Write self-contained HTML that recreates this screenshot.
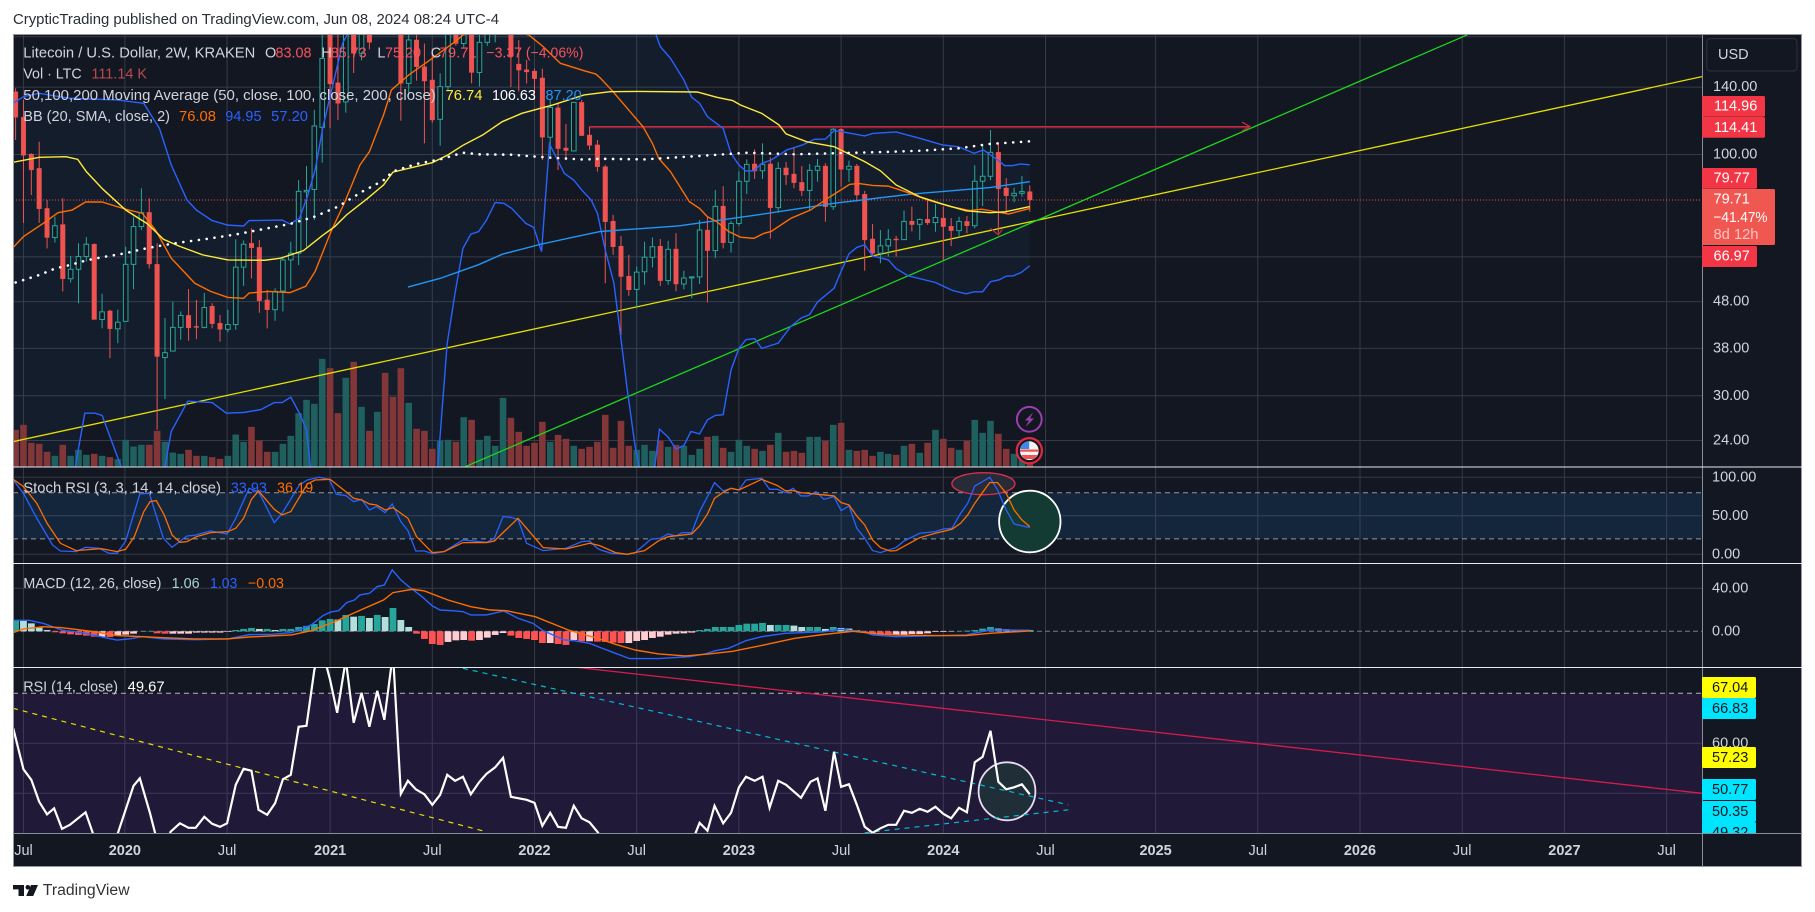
<!DOCTYPE html>
<html lang="en">
<head>
<meta charset="utf-8">
<title>LTC/USD 2W chart</title>
<style>
html,body{margin:0;padding:0;background:#fff;width:1815px;height:912px;overflow:hidden}
svg{display:block;font-family:"Liberation Sans",sans-serif}
text{white-space:pre}
.lg{font-size:14.5px;fill:#d1d4dc;dominant-baseline:central}
.ax{font-size:14.5px;fill:#d1d4dc;dominant-baseline:central}
.tag{font-size:14.5px;fill:#fff;dominant-baseline:central}
.tagd{font-size:14.5px;fill:#131722;dominant-baseline:central}
.r{fill:#f7525f}
</style>
</head>
<body>
<svg id="chart" width="1815" height="912" viewBox="0 0 1815 912" xmlns="http://www.w3.org/2000/svg">
  <defs>
    <clipPath id="clipMain"><rect x="13.5" y="34.5" width="1688.5" height="432"/></clipPath>
    <clipPath id="clipStoch"><rect x="13.5" y="467.5" width="1688.5" height="95.5"/></clipPath>
    <clipPath id="clipMacd"><rect x="13.5" y="564" width="1688.5" height="103"/></clipPath>
    <clipPath id="clipRsi"><rect x="13.5" y="668" width="1688.5" height="165"/></clipPath>
    <clipPath id="clipTags"><rect x="1702" y="668" width="99" height="165"/></clipPath>
  </defs>
  <rect x="0" y="0" width="1815" height="912" fill="#ffffff"/>
  <text x="13" y="20" font-size="14.5" fill="#2a2e39" dominant-baseline="central" textLength="486" lengthAdjust="spacingAndGlyphs">CrypticTrading published on TradingView.com, Jun 08, 2024 08:24 UTC-4</text>
  <rect x="13" y="34" width="1789" height="833" fill="#131722"/>
  <g id="layerGrid"></g>
  <g id="layerMain" clip-path="url(#clipMain)"></g>
  <g id="layerStoch" clip-path="url(#clipStoch)"></g>
  <g id="layerMacd" clip-path="url(#clipMacd)"></g>
  <g id="layerRsi" clip-path="url(#clipRsi)"></g>
  <g id="layerAxis"></g>

  <g fill="none">
    <rect x="13.5" y="34.5" width="1788" height="832" stroke="#9598a1"/>
    <line x1="1702.5" y1="34" x2="1702.5" y2="867" stroke="#8a8d97"/>
    <line x1="13" y1="467" x2="1802" y2="467" stroke="#e6e8ee"/>
    <line x1="13" y1="563.5" x2="1802" y2="563.5" stroke="#e6e8ee"/>
    <line x1="13" y1="667.5" x2="1802" y2="667.5" stroke="#e6e8ee"/>
    <line x1="13" y1="833.5" x2="1802" y2="833.5" stroke="#8a8d97"/>
  </g>

  <g>
    <text class="lg" x="23.3" y="53.5" textLength="232" lengthAdjust="spacingAndGlyphs">Litecoin / U.S. Dollar, 2W, KRAKEN</text>
    <text class="lg" x="265" y="53.5">O</text><text class="lg r" x="275.5" y="53.5" textLength="36" lengthAdjust="spacingAndGlyphs">83.08</text>
    <text class="lg" x="321.4" y="53.5">H</text><text class="lg r" x="330.7" y="53.5" textLength="36" lengthAdjust="spacingAndGlyphs">85.73</text>
    <text class="lg" x="377.4" y="53.5">L</text><text class="lg r" x="385" y="53.5" textLength="36" lengthAdjust="spacingAndGlyphs">75.20</text>
    <text class="lg" x="430.7" y="53.5">C</text><text class="lg r" x="439.7" y="53.5" textLength="37" lengthAdjust="spacingAndGlyphs">79.71</text>
    <text class="lg r" x="486.4" y="53.5" textLength="97" lengthAdjust="spacingAndGlyphs">−3.37 (−4.06%)</text>

    <text class="lg" x="23.3" y="74.7" textLength="58.4" lengthAdjust="spacingAndGlyphs">Vol · LTC</text>
    <text class="lg" x="91.4" y="74.7" textLength="55.6" lengthAdjust="spacingAndGlyphs" fill="#bb4a4f" style="fill:#bb4a4f">111.14 K</text>

    <text class="lg" x="23.3" y="96" textLength="412.5" lengthAdjust="spacingAndGlyphs">50,100,200 Moving Average (50, close, 100, close, 200, close)</text>
    <text class="lg" x="445.5" y="96" textLength="37" lengthAdjust="spacingAndGlyphs" style="fill:#ffeb3b">76.74</text>
    <text class="lg" x="492" y="96" textLength="43.8" lengthAdjust="spacingAndGlyphs" style="fill:#ffffff">106.63</text>
    <text class="lg" x="545.5" y="96" textLength="36.2" lengthAdjust="spacingAndGlyphs" style="fill:#2196f3">87.20</text>

    <text class="lg" x="23.3" y="117" textLength="146.7" lengthAdjust="spacingAndGlyphs">BB (20, SMA, close, 2)</text>
    <text class="lg" x="179" y="117" textLength="37" lengthAdjust="spacingAndGlyphs" style="fill:#ff6d00">76.08</text>
    <text class="lg" x="225.3" y="117" textLength="36.2" lengthAdjust="spacingAndGlyphs" style="fill:#2962ff">94.95</text>
    <text class="lg" x="271.2" y="117" textLength="36.8" lengthAdjust="spacingAndGlyphs" style="fill:#2962ff">57.20</text>
  </g>

  <g>
    <text class="lg" x="23.3" y="488.3" textLength="197.7" lengthAdjust="spacingAndGlyphs">Stoch RSI (3, 3, 14, 14, close)</text>
    <text class="lg" x="230.7" y="488.3" textLength="36.3" lengthAdjust="spacingAndGlyphs" style="fill:#2962ff">33.93</text>
    <text class="lg" x="277" y="488.3" textLength="36.2" lengthAdjust="spacingAndGlyphs" style="fill:#ff6d00">36.19</text>
  </g>
  <g>
    <text class="lg" x="23.3" y="584" textLength="138.2" lengthAdjust="spacingAndGlyphs">MACD (12, 26, close)</text>
    <text class="lg" x="171.6" y="584" textLength="28" lengthAdjust="spacingAndGlyphs" style="fill:#a5d6d0">1.06</text>
    <text class="lg" x="210" y="584" textLength="27.4" lengthAdjust="spacingAndGlyphs" style="fill:#2962ff">1.03</text>
    <text class="lg" x="247.9" y="584" textLength="36.1" lengthAdjust="spacingAndGlyphs" style="fill:#ff6d00">−0.03</text>
  </g>
  <g>
    <text class="lg" x="23.3" y="687.7" textLength="94.7" lengthAdjust="spacingAndGlyphs">RSI (14, close)</text>
    <text class="lg" x="127.6" y="687.7" textLength="37" lengthAdjust="spacingAndGlyphs" style="fill:#ffffff">49.67</text>
  </g>

  <g>
    <circle cx="1029.3" cy="419.3" r="12.4" fill="#131722" stroke="#9c3fb0" stroke-width="2"/>
    <path d="M1033 412.5 L1025 420.5 L1029 420.5 L1025.5 427 L1034 418.5 L1030 418.5 Z" fill="#9c3fb0"/>
  </g>
  <g>
    <circle cx="1029.3" cy="450.7" r="12.6" fill="#131722" stroke="#e0293f" stroke-width="2.2"/>
    <circle cx="1029.3" cy="450.7" r="9.4" fill="#f4f4f6"/>
    <path d="M1021.5 455 h15.6 a9.4 9.4 0 0 1 -3 4 h-9.6 a9.4 9.4 0 0 1 -3 -4 Z" fill="#ef5350"/>
    <path d="M1020 449.5 h19 v2.2 h-19 Z" fill="#ef5350"/>
    <path d="M1020.2 449 a9.4 9.4 0 0 1 9 -7.7 v7.7 Z" fill="#3f86e8"/>
  </g>

  <g>
    <rect x="1706.7" y="38.5" width="90.3" height="32.5" rx="4" fill="#131722" stroke="#2a2e39" stroke-width="1.2"/>
    <text class="ax" x="1718" y="54.8">USD</text>

    <rect x="1702" y="96" width="63" height="20.8" rx="1.5" fill="#f23645"/>
    <text class="tag" x="1714" y="106.5">114.96</text>
    <rect x="1702" y="117" width="63" height="20.8" rx="1.5" fill="#f23645"/>
    <text class="tag" x="1714" y="127.8">114.41</text>
    <rect x="1702" y="168" width="55" height="20.8" rx="1.5" fill="#f23645"/>
    <text class="tag" x="1713.5" y="178.5">79.77</text>
    <rect x="1702" y="189" width="73" height="56" rx="1.5" fill="#f05750"/>
    <text class="tag" x="1713.5" y="199.5">79.71</text>
    <text class="tag" x="1713.5" y="217.8" textLength="54" lengthAdjust="spacingAndGlyphs">−41.47%</text>
    <text class="tag" x="1713.5" y="235" style="fill:#fbc4c1" textLength="45" lengthAdjust="spacingAndGlyphs">8d 12h</text>
    <rect x="1702" y="246" width="55" height="21" rx="1.5" fill="#f23645"/>
    <text class="tag" x="1713.5" y="256.5">66.97</text>

    <g clip-path="url(#clipTags)">
      <rect x="1702" y="677" width="54" height="21" rx="1.5" fill="#ffff00"/>
      <text class="tagd" x="1712" y="687.8">67.04</text>
      <rect x="1702" y="698" width="54" height="21" rx="1.5" fill="#00e5ff"/>
      <text class="tagd" x="1712" y="708.8">66.83</text>
      <rect x="1702" y="747" width="54" height="21" rx="1.5" fill="#ffff00"/>
      <text class="tagd" x="1712" y="757.8">57.23</text>
      <rect x="1702" y="779" width="54" height="21" rx="1.5" fill="#00e5ff"/>
      <text class="tagd" x="1712" y="789.8">50.77</text>
      <rect x="1702" y="801" width="54" height="21" rx="1.5" fill="#00e5ff"/>
      <text class="tagd" x="1712" y="811.8">50.35</text>
      <rect x="1702" y="822" width="54" height="21" rx="1.5" fill="#00e5ff"/>
      <text class="tagd" x="1712" y="832.8">49.32</text>
    </g>
  </g>

  <g>
    <path d="M13 885 h11 v11 h-5.5 v-6.6 h-5.5 Z" fill="#131722"/>
    <circle cx="27.8" cy="887.3" r="2.3" fill="#131722"/>
    <path d="M31 885 h7 l-4.8 11 h-7 Z" fill="#131722"/>
  </g>
  <text x="42.8" y="890.7" font-size="15.5" fill="#333" dominant-baseline="central" textLength="86.8" lengthAdjust="spacingAndGlyphs">TradingView</text>
</svg>
<script>
/* ===== candle data (2-week bars, USD) ===== */
const opens=[136.8,120.4,100.2,93.3,76.4,66.1,70.5,53.8,56.4,60.1,63.9,43.9,45.8,41.9,43.5,57.8,69.8,74.9,57.8,36.3,37.5,42.2,44.8,42.4,42.2,46.9,43.1,41.8,42.8,57.0,64.2,62.9,48.4,46.1,50.6,59.1,61.1,83.0,84,114.5,190,143,130,195,165.7,200,200,240,200,195,142.6,177.1,155,145,119.2,140.3,190,174,195,150.6,175,190,205,200,157,152.7,151.6,146.5,109,126.2,103.3,101.8,129.7,110.2,104.9,94.1,71.7,63.3,54.5,51.0,55.7,59.9,63.3,53.3,62.4,52.4,54.1,54.3,68.6,61.9,77.3,64.5,70.9,87.5,95.4,92.2,95.4,76.7,93.5,90.7,87,83.6,92.4,94.4,77.1,113.4,92.9,94.4,82,65.6,61.1,63.4,65.6,65.4,71.7,70.6,72.4,71.2,72.8,69.9,68.4,71.6,70.1,87.5,89.7,101.1,84.6,81.4,82.4,83.08];
const highs=[139.2,131.3,100.6,106.6,79.7,73.3,80.4,60.3,64.2,66.2,64.2,49.9,46.1,46.1,63.1,73.3,84.5,80.4,64.2,44.2,48.0,45.7,51.1,48.4,50.1,47.6,44.9,46.1,65.5,65.1,69.2,65.3,50.9,51.3,60.1,64.7,88.0,94.4,124.9,190,215,185,200,210,200,210,260,270,250,230,185,190,174,170,149.9,200,205,200,210,190,190,220,240,215,177,160.3,153.5,153.5,131.3,129.1,116.4,130,131.3,114.9,107.5,95,74,66.6,60.6,57.2,64.7,66.1,65.6,65,67.5,56,54.4,72.1,73.3,83.8,85.4,71.8,91.8,97.6,102.6,105.7,98.6,96.3,96.3,103.6,94.4,95.4,97.8,95.7,114,114,97,95.4,83.4,70.7,68.6,68.9,66.6,75.6,77.1,72.7,79.7,78.1,77.1,72.8,73.3,73.6,94.8,105.4,113,105.7,88.9,84.7,89.8,85.73];
const lows=[107.5,71.1,81.7,71.1,62.6,64.4,50.5,52.8,47.6,58.6,43.9,42.0,36.2,39.0,43.4,51.1,68.6,56.6,25.3,29.5,37.4,39.7,39.5,39.8,42.0,42.0,39.3,41.2,41.7,51.9,53.9,45.4,42.0,43.6,45.7,51.3,57.6,63.1,72.1,96.0,114,118.8,123.2,150.2,160,169,188,190,185,118.4,134.6,144.5,105.7,117.2,104.5,138,172,170,142.6,140.3,172,175,190,140,136.9,142.6,131.3,97.3,98.9,92.6,97.3,101.5,109.7,102.3,91.8,52.6,60.6,40.6,49.4,46.4,52.2,56.9,51.9,52.2,50.5,51,48.8,52.4,47.8,59.6,62.6,61.3,70,82.1,88.5,88.5,65.7,74.8,85.9,84.5,81.3,75.8,87.3,71.5,75.8,85.2,87.2,79,56,60.1,58.1,60.1,60.1,65.3,68.1,65.3,70.4,68,59.1,63.3,66.2,67.5,69.2,77.3,88,67.5,74.6,78.8,81,75.20];
const closes=[120.4,99.6,92.6,76.3,66.1,70.1,53.8,56.4,60.1,63.9,43.9,45.6,41.9,43.3,57.8,69.8,74.8,57.9,36.5,37.2,42.2,44.8,42.1,42.2,46.6,43.0,41.8,42.8,57.0,63.9,62.8,48.2,46.1,50.5,59.1,61.1,83.2,83.6,115.3,161.5,142.2,129.1,195,165.7,190,175,240,200,190,142.6,177.1,155.0,144.3,118.8,140.3,190,174,195,150.6,175,185,205,220,163.5,152.4,151,146,109,126.5,103,102,129.7,109.9,104.7,94.1,71.5,63.1,54.4,50.9,55.6,59.9,63.1,53.3,62.3,52.4,54,54.3,68.6,61.9,77.2,64.4,70.9,87.5,95.2,92.1,95.2,76.7,93.3,90.3,86.9,83.5,92.4,94.3,77.1,113.4,92.9,94.3,81.7,65.3,61.1,63.4,65.5,65.4,71.6,70.5,72.3,71.1,73,69.8,68.4,71.6,70.1,87.5,89.7,101.1,84.3,81.4,82.4,83.1,79.71];
const volumesK=[1320,1500,852,816,528,384,780,384,600,420,456,384,336,264,960,720,780,780,1284,888,504,456,600,384,384,336,276,384,1152,888,1428,936,528,528,816,1104,1920,2400,2256,3876,3540,1920,3192,3768,2148,1284,1968,3372,2508,3540,2292,1356,1284,636,924,960,888,1776,1680,960,1104,744,2472,1752,1248,744,852,1608,888,1140,996,744,636,708,888,1860,672,1644,744,600,780,564,924,708,780,744,420,636,1068,1104,672,528,960,744,636,564,780,1212,528,564,492,1068,1068,924,1500,1572,600,564,600,384,528,456,420,744,816,492,852,1320,996,672,600,924,1680,1212,1644,1176,636,456,336,111.14];

/* ===== moving averages: [bar index, price] ===== */
const ma50=[[-0.3,96.2],[3,98.6],[6.4,98.9],[7.9,97.6],[9,91.8],[11.1,84.1],[14,75.8],[16.8,70.7],[18.8,65.5],[20.8,63.3],[23.8,60.6],[27,59.1],[31.7,59],[33.7,59.6],[36.6,61.9],[39.1,66.9],[40.6,69.8],[42.1,74],[44.8,80.4],[46.8,85.9],[48,91.6],[53,96],[55,99.8],[56.9,104.7],[59.4,110.2],[61.9,117.8],[64.4,122.8],[68.3,128],[72.3,134.6],[75.6,136.8],[79.3,137],[86.7,136.6],[89.2,133],[91.2,130.9],[92.2,128],[94.9,122.8],[97.1,115.9],[98,110.8],[100.6,106.6],[104.1,104],[108,96.5],[110,92.2],[112,85.9],[115,81],[117.9,78.1],[120.9,75.5],[123.9,74.8],[125.8,75.1],[129,77.1]];
const ma100=[[0,52.8],[3,54.8],[5,56.6],[6.9,57.6],[8.9,58.9],[11,59.9],[14,61.1],[16,62.3],[18.1,63.3],[21,64.5],[24,65.5],[28,67.1],[30.9,68.6],[34.9,70.7],[38,73.3],[41,77.1],[44.1,83.1],[47,88.3],[47.9,91.8],[51,95.4],[54,97.6],[56.9,100.9],[59,100.1],[63,99.9],[68.1,98.4],[72.3,97.5],[74.4,97.9],[80,97.6],[87,99.3],[93.2,100.9],[99.1,100.1],[104.1,100.6],[109,101.1],[115,101.9],[119.9,103.1],[123.9,105.4],[129,106.8]];
const ma200=[[49.9,51.6],[54,53.9],[58.9,57.7],[61.9,60.8],[66.8,63.9],[71.3,66.4],[74.4,68.1],[84.3,70],[94.2,73.9],[104.1,78.4],[114,82.1],[123.9,84.8],[129,87.3]];

/* ===== Bollinger bands: [bar index, price] ===== */
const bbBasis=[[-0.3,62.9],[1,66.4],[3.5,70.9],[5.4,74.8],[7.2,75.8],[8.9,78.9],[11,78.9],[12.9,77.1],[14.4,75.8],[16.1,74.6],[17.8,68.6],[19.8,59.6],[22.8,52.6],[24.8,50.5],[27,49],[29,48.8],[29.7,50.1],[32.2,50.5],[34.9,50.2],[36.9,51.8],[38.1,55.8],[40.1,68],[41.8,78.4],[43.8,94.9],[45,101.4],[46.8,121.8],[47.8,138],[50,148.7],[53,161.6],[55.9,175.6],[56.9,181.5],[58.9,184.6],[62.4,186],[65.3,181.5],[67.1,171.3],[69.3,157.6],[72.3,151.9],[73.8,149.4],[74.4,146.3],[75.8,138],[77.8,125.9],[79.8,114.9],[81,105.7],[81.8,98.1],[83.3,91.8],[85.7,79],[87,76.4],[88,73.3],[89.2,71.5],[90.7,68.1],[92.2,66.2],[93.9,65.8],[95.2,67.5],[96.1,68.1],[98.6,72.7],[101.1,75.8],[103.6,81],[106.1,86.2],[107.3,86.5],[109,85.7],[111,85.4],[113.5,82.7],[116,79.7],[118.9,77.1],[121.4,75.6],[122.9,76.1],[126.3,74.3],[129,76.4]];
const bbUpper=[[-0.3,129.1],[1,133.5],[3,135.7],[6.9,132.4],[12.9,131.3],[16.3,129.1],[18.3,113.9],[19.8,94.9],[21.8,79.7],[23,75.8],[25,71.9],[27,70.3],[29,70],[29.7,71.9],[33.9,72.1],[34.9,70.7],[36.1,72.7],[37.1,81],[38.1,92.6],[39.1,114.9],[40.1,135.7],[41.6,174.2],[42.6,187.7],[45,240],[55,320],[65,320],[72,240],[81.4,183],[82,171.3],[83.3,161.6],[85,145],[86,133],[87,129.1],[88,120.8],[90,113.9],[91,100.6],[92,94.9],[92.9,92.1],[93.9,92.2],[94.9,95.7],[96.1,97.3],[98.1,102.3],[100.1,104.9],[101.6,107.9],[103,108],[104.1,112.6],[105,112.1],[108,109.7],[109,111.1],[112,111.9],[115,108.4],[117.9,104.9],[119.9,104],[121.9,100.6],[123.1,102.3],[124.9,97.3],[125.8,94.6],[126.8,94.6],[127.8,95.4],[129,95]];
const bbLower=[[-0.3,15],[7.6,21.1],[8.8,27.5],[10.1,27.5],[11,27.2],[13.4,21.1],[15,16],[18,16],[19,21.1],[19.8,25.1],[21.9,29.2],[25,29],[26.8,27.5],[29,27.6],[31.2,28],[32.9,29],[33.9,29],[35,29.8],[36.1,27.5],[37,25.3],[37.5,21.1],[40,10],[53,10],[53.7,21.1],[54.9,39],[55.9,50.1],[56.9,62.6],[57.9,67.2],[58.9,68.1],[59.9,72.1],[61,78.7],[62.1,78.4],[63.1,76.4],[64.9,70.9],[65.9,69.5],[66.9,61.6],[67.9,105.4],[69.8,91],[71,88],[72,83.8],[73.2,79.7],[74,74.6],[75,62.1],[76.1,52.6],[76.8,42.4],[77.8,30.9],[78.8,23.3],[79.3,21.1],[80.5,18],[81.3,21.1],[81.9,25.4],[83,24.4],[84,23],[85,23.4],[85.9,25.1],[87,24.8],[88,26.6],[89,27.2],[90,27.3],[91,34.1],[92,38],[92.9,39.7],[94,39.9],[94.9,38],[97,39],[98.6,42.4],[99.9,44.2],[101,45],[102,47.9],[104.1,51.3],[105,55.8],[106,60.9],[107,62.9],[108,63.7],[109,60.3],[111,59.1],[112,56.6],[113.5,54.6],[117,52.8],[119.2,50.7],[120.9,49.9],[121.9,50.4],[123,50.4],[124,53],[125.1,53.5],[126,54.5],[126.9,54.6],[127.9,55.5],[129,57.4]];

/* ===== Stoch RSI: [bar index, value] ===== */
const stochK=[[-0.3,96.5],[1,79.2],[2.7,46.8],[4.7,12.1],[5.7,4.3],[7.7,3.5],[8.9,9.1],[10.6,7.8],[11.9,1.3],[12.9,1.3],[14,17.3],[15.8,78.4],[17,79.2],[18.8,20.8],[19.9,9.1],[21.8,23.8],[22.8,24.7],[24.8,30.3],[26.9,26.4],[28,46.8],[29.7,85.7],[30.9,81.4],[32.9,41.1],[33.9,53.2],[36.1,90],[37.1,96.5],[38.6,100],[39.9,97.4],[40.8,77.9],[42,76.2],[43,68.4],[44,71.4],[45,57.6],[45.9,61.9],[47,54.1],[47.9,65.4],[49,42.4],[49.9,30.7],[50.9,4.3],[52,4.3],[53,0.9],[54.5,3.5],[56.9,18.6],[59.9,15.6],[60.9,20.8],[62,48.9],[62.9,48.1],[63.9,45.5],[65,14.3],[67.1,4.8],[70,7.8],[72,16.5],[73,17.3],[74,7.8],[74.4,5.6],[75.8,1.3],[77.8,0],[78.8,2.2],[80.8,19.5],[82,20.8],[83,26.4],[84,23.8],[84.8,28.1],[86,28.1],[87,55.4],[88,74.9],[88.9,93.1],[90,82.3],[91,85.7],[92,83.5],[92.9,96.5],[94.9,98.7],[95.9,84.4],[96.9,84.4],[97.9,80.1],[98.9,85.7],[99.9,75.8],[100.8,75.8],[101.8,81.4],[102.8,71.4],[104.1,74.9],[105,56.7],[106,62.8],[107,33.8],[108,20.8],[109,4.8],[110,2.2],[112,8.7],[113,17.3],[115,27.3],[117,29.4],[118,32.9],[119.1,33.8],[120.2,53.2],[121.1,66.2],[122,88.7],[123,94.4],[123.9,100],[124.9,83.5],[126,57.6],[127,39.4],[129,34.6]];
const stochD=[[-0.3,97.4],[1,87.9],[2.7,66.2],[4,40.3],[5.7,14.3],[7.7,4.8],[10.9,7.4],[12.9,3.5],[14,6.5],[15.1,22.9],[16.3,55.4],[17.1,68.4],[17.9,69.7],[18.9,51.1],[19.9,25.1],[20.9,15.6],[21.8,16.5],[23,22.9],[24.8,28.1],[27,29.4],[28,33.8],[29,46.8],[30,71.4],[30.9,82.3],[32.9,58.4],[33.9,51.1],[35,55.4],[37.1,91.3],[38.1,96.5],[40,97.4],[42,81.4],[43,72.7],[44,70.6],[45,65.4],[45.9,64.1],[47,57.6],[48,60.6],[49.9,46.8],[51,22.9],[53,2.2],[54.5,3.5],[56.9,15.2],[59.9,15.2],[60.9,17.3],[63.9,46.8],[65,33.8],[67.1,8.7],[70,6.9],[73,14.3],[74,12.1],[74.4,10.8],[76.3,2.2],[77.8,0],[80,4.8],[81.8,17.7],[83,22.9],[86,26.4],[87,36.8],[88,52.4],[88.9,72.7],[90,80.5],[91,85.7],[92,83.5],[94.9,97.4],[96.9,89.2],[97.9,82.7],[98.9,82.7],[99.9,80.1],[102.8,77.1],[104.1,75.8],[105,67.1],[106,64.1],[107,49.8],[108,38.1],[109,18.6],[110,8.7],[111.2,4.3],[112,4.8],[115,21.6],[117,27.3],[119.1,32.5],[120.2,40.3],[121.1,51.1],[122,66.2],[123,80.5],[123.9,93.1],[124.9,93.1],[126,79.2],[127,57.6],[128,44.6],[129,35.9]];

/* ===== MACD ===== */
const macdHist=[10.5,9.6,7.4,3.4,1.2,-0.9,-1.9,-2.8,-3.4,-4,-5,-5,-5.3,-3.7,-3.1,-2.2,-0.1,0.3,-1.9,-2.2,-2.2,-2.2,-2.2,-1.2,-1.2,-1.2,-1.2,-0.6,1.2,2.2,3.1,2.2,2.2,1.2,2.2,2.2,4,5,6.8,10.2,11.5,10.9,15.2,13.6,14.3,12.4,15.2,13.3,21.7,10.5,4,-2.2,-7.1,-11.8,-12.7,-9.9,-8.4,-8.1,-8.7,-8.1,-5.9,-3.4,-1.6,-4,-6.2,-7.1,-8.1,-10.9,-10.9,-11.8,-12.7,-8.1,-9.3,-9.3,-9.6,-9.9,-10.5,-10.9,-10.9,-9,-8.1,-6.2,-5,-3.1,-2.2,-1.9,-1.2,1.2,2.2,4,4,4,5.9,7.1,7.1,7.8,5.9,5.9,5.9,5.3,4,4,4,2.2,4,3.1,2.5,0.9,-1.2,-2.8,-3.4,-3.7,-3.4,-3.1,-2.5,-2.5,-1.9,-0.6,-0.6,-0.3,0.1,0.6,1.2,2.5,4,2.5,1.9,1.6,1.2,0.9];
const macdLine=[[-0.3,10.2],[1.7,10.2],[3.5,7.4],[5.9,1.2],[8.9,-1.9],[11.4,-5.9],[12.9,-8.1],[14.4,-7.1],[16.1,-5],[18.8,-7.1],[22.8,-7.8],[27,-7.1],[29.7,-3.1],[32.7,-2.8],[35.1,-1.2],[37.6,5.9],[39.1,14.6],[40.1,18],[41.1,19.2],[42.1,26.7],[43.1,29.1],[43.8,33.8],[45,35.3],[46,41.6],[46.9,43.1],[47.9,57.1],[49,47.8],[50,41.6],[51.7,32.2],[53,23.6],[54,19.8],[55.9,18.9],[56.9,18.3],[57.9,15.2],[59.9,15.2],[62.1,18.9],[63.9,12.1],[65.8,7.4],[67.1,0.6],[69.8,-8.1],[71,-8.7],[73,-11.2],[74.4,-15.2],[76.3,-20.5],[78.1,-25.4],[81.8,-25.4],[85.7,-23.6],[87.7,-21.1],[89,-18],[90.7,-15.8],[92.9,-8.7],[94.9,-5],[97.9,-1.9],[102.6,-0.6],[105,1.9],[108,-0.9],[109,-3.4],[112,-5],[116,-4.3],[120.9,-3.4],[123.9,1.2],[129,1]];
const macdSignal=[[-0.3,-1.2],[1,2.2],[3.5,4.3],[5.9,3.4],[9.9,-0.3],[12.9,-4],[16.3,-5],[18.8,-5.9],[22.8,-7.1],[27,-7.1],[29.7,-5.3],[35.1,-3.4],[37.6,0.6],[40.6,9],[44.1,20.5],[46.8,29.1],[48,36],[50.5,39.1],[52,37.5],[55,29.1],[57.9,22.9],[60.4,19.8],[62.4,19.2],[66.1,13.6],[70.3,1.2],[74.4,-7.4],[76.3,-12.1],[78.8,-17.4],[81.8,-21.1],[85.2,-22.9],[88.2,-21.1],[91.2,-18.6],[95.2,-12.7],[99.1,-6.5],[102.6,-3.1],[106.5,0],[109,-1.9],[112,-3.4],[117,-4],[120.9,-4],[123.9,-1.9],[129,0.3]];

/* ===== RSI: [bar index, value] ===== */
const rsiSeries=[[-0.3,63],[1,54.8],[2,52.7],[3,48.3],[4,45.8],[4.9,47],[5.9,42.9],[6.9,43.7],[8.9,46.2],[9.9,41.7],[11,33.3],[13,42],[15,51.5],[15.8,53],[17.1,46],[17.8,41.7],[18.8,36.7],[19.7,42.3],[20.9,44],[22,43.1],[22.9,43.1],[24,45.3],[25,43.9],[26,43.3],[26.9,44],[28,51.7],[29,54.9],[30,54.5],[30.9,46.7],[32,45.7],[33,48],[34,52.8],[35,53.7],[36,63.3],[37,63.5],[38,74.7],[38.9,79.3],[40,72.7],[40.9,66.1],[42,76.7],[43,64.1],[44,70.1],[45,63.3],[46,70.5],[46.9,64.7],[48,78],[49,49.9],[49.9,52.5],[50.9,50.8],[52,49.8],[53,47.7],[54,49.7],[54.9,53.7],[55.9,52.5],[56.9,53.3],[57.9,49.8],[59,52.3],[59.9,53.9],[61,55.2],[62,57.1],[63,49.3],[65,48.7],[66,48.1],[67,43.5],[68,46.1],[69,43.3],[70,43.1],[71,47.5],[72,45],[73,44.2],[74,42.3],[75,40],[80,35],[85,37],[86.5,42.1],[87,44.1],[88,42.5],[88.9,47.5],[90,44],[91,46.1],[92,51.2],[92.9,53.3],[94,52.5],[95,53.3],[95.9,47.1],[97,52.5],[98,51.7],[99.9,49.1],[101.1,52.3],[102,53],[103,46.5],[104.1,58.3],[105,51.3],[106,51.8],[107,47.7],[108,43.3],[109,42.1],[110,43],[111,43.7],[112,43.7],[113,46.5],[114,46.1],[115,46.9],[116,46.3],[117,47.3],[118,45.9],[119,45],[120,47.1],[121,46.2],[122,56.2],[123,57.3],[124,62.5],[125,52.3],[126,50.8],[127,51.2],[128,51.8],[129,49.8]];

/* ===== axis ticks ===== */
const priceTicks=[180,140,100,60,48,38,30,24];
const priceTickLabels=["","140.00","100.00","","48.00","38.00","30.00","24.00"];
const stochTicks=[100,50,0];
const stochTickLabels=["100.00","50.00","0.00"];
const macdTicks=[40];
const macdAxisValues=[40,0];
const macdTickLabels=["40.00","0.00"];
const rsiTicks=[60,50];
const rsiTickLabels=["60.00",""];
const timeTickBars=[1,13.9,26.9,40,53,66,79,92,105,118,131,145,158,171,184,197,210];
const timeTickLabels=["Jul","2020","Jul","2021","Jul","2022","Jul","2023","Jul","2024","Jul","2025","Jul","2026","Jul","2027","Jul"];

/* ===== drawings: bar index and value anchors ===== */
const yellowTrendBars=[-0.33,214.5];
const yellowTrendPrices=[23.86,147.5];
const greenTrendBars=[57.2,184.7];
const greenTrendPrices=[21.06,181.8];
const resistanceBars=[73,157];
const resistancePrices=[114.96,114.41];
const arrowBars=[124.0,125,125.5];
const arrowPrices=[69.2,66.97,68.8];
const lastPrice=79.71;
const rsiYellowBars=[-0.33,59.9];
const rsiYellowVals=[67,42.3];
const rsiCyanBars=[56.9,133.9];
const rsiCyanVals=[75,47.7];
const rsiCyanLowBars=[108,133.9];
const rsiCyanLowVals=[42.1,46.7];
const rsiCrimsonBars=[71.3,214.5];
const rsiCrimsonVals=[75.2,50];

/* ===== scales ===== */
const X0=15.6, STEP=7.862;
const x=i=>X0+STEP*i;
const yP=p=>154.5+200.4*Math.log(100/p);
const yS=v=>554.3-0.77*v;
const yM=v=>631.3-1.075*v;
const yR=v=>793.3-(v-50)*5;
const yV=v=>466.5-v/36;

const NS='http://www.w3.org/2000/svg';
function mk(tag,attrs,parent){
  const el=document.createElementNS(NS,tag);
  for(const k in attrs)el.setAttribute(k,attrs[k]);
  parent.appendChild(el);
  return el;
}
const pathOf=(knots,yf)=>knots.map((k,j)=>(j?'L':'M')+x(k[0]).toFixed(2)+' '+yf(k[1]).toFixed(2)).join(' ');
const gridG=document.getElementById('layerGrid');
const mainG=document.getElementById('layerMain');
const stochG=document.getElementById('layerStoch');
const macdG=document.getElementById('layerMacd');
const rsiG=document.getElementById('layerRsi');
const axisG=document.getElementById('layerAxis');
const GRID='#363a45';

/* vertical grid + time labels */
timeTickBars.forEach((b,i)=>{
  const ln=mk('line',{x1:x(b),x2:x(b),y1:35,y2:833,stroke:GRID,'stroke-width':1},gridG);
  
  
  const isYear=timeTickLabels[i]!=='Jul';
  const t=mk('text',{x:x(b),y:850.8,'text-anchor':'middle',class:'ax','font-weight':isYear?'700':'400'},axisG);
  
  
  t.textContent=timeTickLabels[i];
});
/* horizontal grids + value labels */
priceTicks.forEach((p,i)=>{
  const ln=mk('line',{x1:13,x2:1702,y1:yP(p),y2:yP(p),stroke:GRID},gridG);
  
  
  if(priceTickLabels[i]){
    const t=mk('text',{x:1713,y:yP(p),class:'ax'},axisG);
    
    
    t.textContent=priceTickLabels[i];
  }
});
stochTicks.forEach((v,i)=>{
  const ln=mk('line',{x1:13,x2:1702,y1:yS(v),y2:yS(v),stroke:GRID},gridG);
  
  
  const t=mk('text',{x:1712,y:yS(v),class:'ax'},axisG);
  
  
  t.textContent=stochTickLabels[i];
});
macdTicks.forEach(v=>{
  const ln=mk('line',{x1:13,x2:1702,y1:yM(v),y2:yM(v),stroke:GRID},gridG);
  
  
});
macdAxisValues.forEach((v,i)=>{
  const t=mk('text',{x:1712,y:yM(v),class:'ax'},axisG);
  
  
  t.textContent=macdTickLabels[i];
});
rsiTicks.forEach((v,i)=>{
  const ln=mk('line',{x1:13,x2:1702,y1:yR(v),y2:yR(v),stroke:GRID},gridG);
  
  
  if(rsiTickLabels[i]){
    const t=mk('text',{x:1712,y:yR(v),class:'ax'},axisG);
    
    
    t.textContent=rsiTickLabels[i];
  }
});

/* ---- main pane ---- */
const bbFill=mk('path',{d:pathOf(bbUpper,yP)+' '+pathOf(bbLower.slice().reverse(),yP).replace('M','L')+' Z',fill:'rgba(33,150,243,0.05)'},mainG);



closes.forEach((c,i)=>{
  const vb=mk('rect',{x:x(i)-3.3,y:yV(volumesK[i]),width:6.6,height:466.5-yV(volumesK[i]),fill:c>=opens[i]?'#1f5f5e':'#823638'},mainG);
  
  
});

const lastLine=mk('line',{x1:13,x2:1702,y1:yP(lastPrice),y2:yP(lastPrice),stroke:'#ef5350','stroke-dasharray':'1 2'},mainG);



const trendY=mk('line',{x1:x(yellowTrendBars[0]),y1:yP(yellowTrendPrices[0]),x2:x(yellowTrendBars[1]),y2:yP(yellowTrendPrices[1]),stroke:'#e6e000','stroke-width':1.3},mainG);


const trendG=mk('line',{x1:x(greenTrendBars[0]),y1:yP(greenTrendPrices[0]),x2:x(greenTrendBars[1]),y2:yP(greenTrendPrices[1]),stroke:'#1ed51e','stroke-width':1.3},mainG);



const resDark=mk('line',{x1:x(resistanceBars[0]),y1:yP(resistancePrices[1]),x2:x(resistanceBars[1]),y2:yP(resistancePrices[1]),stroke:'#7e2a3a','stroke-width':1.4},mainG);


const resLine=mk('line',{x1:x(resistanceBars[0]),y1:yP(resistancePrices[0]),x2:x(resistanceBars[1]),y2:yP(resistancePrices[0]),stroke:'#c9283e','stroke-width':1},mainG);


const resHead=mk('path',{d:`M${x(resistanceBars[1])-8} ${yP(resistancePrices[0])-4.5} L${x(resistanceBars[1])} ${yP(resistancePrices[0])} L${x(resistanceBars[1])-8} ${yP(resistancePrices[0])+4.5}`,fill:'none',stroke:'#c9283e','stroke-width':1.2},mainG);



closes.forEach((c,i)=>{
  const up=c>=opens[i];
  const col=up?'#26a69a':'#ef5350';
  const top=yP(Math.max(opens[i],c)), bot=yP(Math.min(opens[i],c));
  const wick=mk('line',{x1:x(i),x2:x(i),y1:yP(highs[i]),y2:yP(lows[i]),stroke:col,'stroke-width':1},mainG);
  
  
  const body=mk('rect',{x:x(i)-2.3,y:top,width:4.6,height:Math.max(bot-top,1),fill:up?'#131722':col,stroke:col,'stroke-width':up?1:0.4},mainG);
  
  
});

const smallArrow=mk('polyline',{points:arrowBars.map((b,i)=>x(b)+','+yP(arrowPrices[i])).join(' '),fill:'none',stroke:'#c9283e','stroke-width':1.2},mainG);



const l1=mk('path',{d:pathOf(bbUpper,yP),fill:'none',stroke:'#2962ff','stroke-width':1.4},mainG);


const l2=mk('path',{d:pathOf(bbLower,yP),fill:'none',stroke:'#2962ff','stroke-width':1.4},mainG);


const l3=mk('path',{d:pathOf(ma200,yP),fill:'none',stroke:'#2196f3','stroke-width':1.4},mainG);


const l4=mk('path',{d:pathOf(bbBasis,yP),fill:'none',stroke:'#ff6d00','stroke-width':1.4},mainG);


const l5=mk('path',{d:pathOf(ma50,yP),fill:'none',stroke:'#ffeb3b','stroke-width':1.4},mainG);


const l6=mk('path',{d:pathOf(ma100,yP),fill:'none',stroke:'#ffffff','stroke-width':2.6,'stroke-linecap':'round','stroke-dasharray':'0.1 7.76'},mainG);



/* ---- stoch pane ---- */
const sb=mk('rect',{x:13,y:yS(80),width:1689,height:yS(20)-yS(80),fill:'rgba(33,150,243,0.12)'},stochG);


[80,20].forEach(v=>{
  const d=mk('line',{x1:13,x2:1702,y1:yS(v),y2:yS(v),stroke:'#9598a1','stroke-dasharray':'5 4'},stochG);
  
  
});
const redEll=mk('ellipse',{cx:x(123.1),cy:483.7,rx:31.5,ry:11,fill:'#272b38',stroke:'#d5304a','stroke-width':1.4},stochG);


const grEll=mk('ellipse',{cx:x(129),cy:521.5,rx:30.7,ry:30.8,fill:'#133b33',stroke:'#ffffff','stroke-width':1.8},stochG);


const sk=mk('path',{d:pathOf(stochK,yS),fill:'none',stroke:'#2962ff','stroke-width':1.3},stochG);


const sd=mk('path',{d:pathOf(stochD,yS),fill:'none',stroke:'#ff6d00','stroke-width':1.3},stochG);



/* ---- macd pane ---- */
const mz=mk('line',{x1:13,x2:1702,y1:yM(0),y2:yM(0),stroke:'#787b86','stroke-dasharray':'5 3'},macdG);


macdHist.forEach((v,i)=>{
  const prev=i?macdHist[i-1]:v;
  const col=v>=0?(v>=prev?'#26a69a':'#b2dfdb'):(v<prev?'#ff5252':'#ffcdd2');
  const y0=yM(Math.max(v,0)), y1=yM(Math.min(v,0));
  const b=mk('rect',{x:x(i)-3.4,y:y0,width:6.8,height:y1-y0,fill:col},macdG);
  
  
});
const mg=mk('path',{d:pathOf(macdLine,yM),fill:'none',stroke:'#2962ff','stroke-width':1.4},macdG);


const ms=mk('path',{d:pathOf(macdSignal,yM),fill:'none',stroke:'#ff6d00','stroke-width':1.4},macdG);



/* ---- rsi pane ---- */
const rb=mk('rect',{x:13,y:yR(70),width:1689,height:833-yR(70),fill:'rgba(127,40,210,0.13)'},rsiG);


const r70=mk('line',{x1:13,x2:1702,y1:yR(70),y2:yR(70),stroke:'#b2b5be','stroke-dasharray':'5 4'},rsiG);


const rEll=mk('ellipse',{cx:x(126.1),cy:791.3,rx:28.4,ry:29,fill:'#1f2e37',stroke:'#eadcf0','stroke-width':1.8},rsiG);


const ry=mk('line',{x1:x(rsiYellowBars[0]),y1:yR(rsiYellowVals[0]),x2:x(rsiYellowBars[1]),y2:yR(rsiYellowVals[1]),stroke:'#e6e000','stroke-width':1.2,'stroke-dasharray':'5 5'},rsiG);


const rc=mk('line',{x1:x(rsiCyanBars[0]),y1:yR(rsiCyanVals[0]),x2:x(rsiCyanBars[1]),y2:yR(rsiCyanVals[1]),stroke:'#00bcd4','stroke-width':1.2,'stroke-dasharray':'5 5'},rsiG);


const rl=mk('line',{x1:x(rsiCyanLowBars[0]),y1:yR(rsiCyanLowVals[0]),x2:x(rsiCyanLowBars[1]),y2:yR(rsiCyanLowVals[1]),stroke:'#00bcd4','stroke-width':1.2,'stroke-dasharray':'5 5'},rsiG);


const rr=mk('line',{x1:x(rsiCrimsonBars[0]),y1:yR(rsiCrimsonVals[0]),x2:x(rsiCrimsonBars[1]),y2:yR(rsiCrimsonVals[1]),stroke:'#d81b4f','stroke-width':1.3},rsiG);


const rw=mk('path',{d:pathOf(rsiSeries,yR),fill:'none',stroke:'#ffffff','stroke-width':2.2,'stroke-linejoin':'miter'},rsiG);


</script>
</body>
</html>
